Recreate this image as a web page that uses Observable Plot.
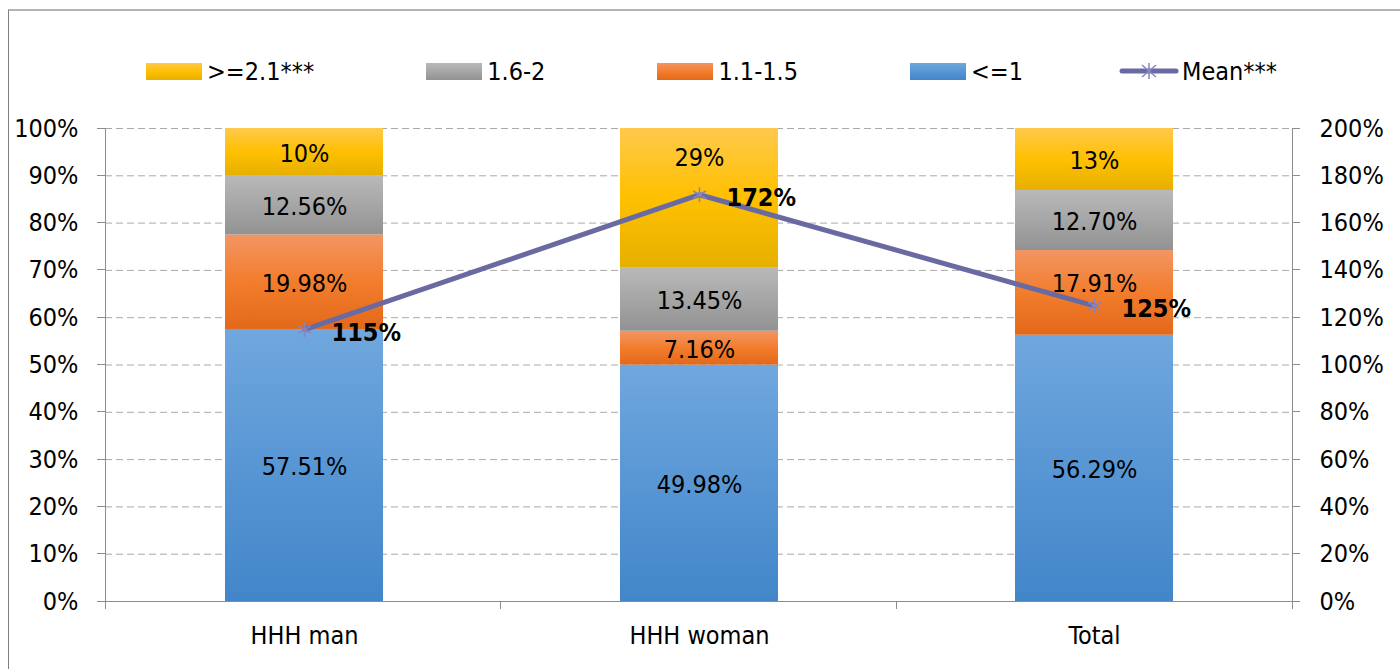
<!DOCTYPE html>
<html>
<head>
<meta charset="utf-8">
<script src="https://cdn.jsdelivr.net/npm/d3@7"></script>
<script src="https://cdn.jsdelivr.net/npm/@observablehq/plot@0.6"></script>
<style>
  html, body { margin: 0; padding: 0; background: #fff; }
  #wrap { position: relative; width: 1400px; height: 669px; overflow: hidden;
    font-family: 'DejaVu Sans Condensed', 'Open Sans', sans-serif; color: #000; }
  #border { position: absolute; left: 8px; top: 9px; right: 0; bottom: 0;
    border-top: 2px solid #b4b4b4; border-left: 1px solid #7f7f7f; pointer-events: none; }
  #legend { position: absolute; left: 146px; top: 52px; height: 38px; display: flex; align-items: center; gap: 112px; font-size: 25px; }
  .item { display: flex; align-items: center; gap: 5px; white-space: nowrap; }
  .item.mean { margin-left: -16px; gap: 3px; }
  .sw { width: 56px; height: 17px; }
  .ln { width: 60px; height: 20px; }
  #chart { position: absolute; left: 0; top: 100px; }
</style>
</head>
<body>
<div id="wrap">
  <div id="border"></div>
  <div id="legend"></div>
  <div id="chart"></div>
</div>
<script>
// ---- data ----
const categories = ["HHH man", "HHH woman", "Total"];
const seriesNames = ["<=1", "1.1-1.5", "1.6-2", ">=2.1***"]; // bottom to top
const seriesKeys = ["blue", "orange", "gray", "yellow"];
const valuesLe1 = [57.51, 49.98, 56.29];
const values11to15 = [19.98, 7.16, 17.91];
const values16to2 = [12.56, 13.45, 12.70];
const valuesGe21 = [9.95, 29.41, 13.10];
const labelDecimals = [2, 2, 2, 0];
const meanName = "Mean***";
const meanValues = [115, 172, 125];
const leftTicks = [0, 10, 20, 30, 40, 50, 60, 70, 80, 90, 100];
const rightMax = 200;
const legendOrder = [3, 2, 1, 0];

// ---- styles ----
const gradients = {
  blue:   [["0%", "#70a7de"], ["50%", "#5896d4"], ["100%", "#4286c9"]],
  orange: [["0%", "#f39563"], ["50%", "#f27d2d"], ["100%", "#e3691a"]],
  gray:   [["0%", "#b9b9b9"], ["50%", "#a6a6a6"], ["100%", "#929292"]],
  yellow: [["0%", "#ffc94d"], ["50%", "#ffc000"], ["100%", "#e6b000"]]
};
const lineColor = "#6a6aa2";
const markerColor = "#8585c0";
const axisColor = "#8c8c8c";
const gridColor = "#a9a9a9";
const FONT = 25;
const FONTFAM = "'DejaVu Sans Condensed', 'Open Sans', sans-serif";

// ---- build table ----
const seriesValues = [valuesLe1, values11to15, values16to2, valuesGe21];
const rows = [];
categories.forEach((cat, i) => {
  let acc = 0;
  seriesValues.forEach((vals, s) => {
    const v = vals[i];
    rows.push({cat, key: seriesKeys[s], name: seriesNames[s], value: v,
      y1: acc, y2: acc + v, ymid: acc + v / 2,
      label: v.toFixed(labelDecimals[s]) + "%"});
    acc += v;
  });
});
const meanRows = categories.map((cat, i) => ({cat, mean: meanValues[i]}));
const toLeft = v => v * 100 / rightMax;

// ---- legend ----
const legend = document.getElementById("legend");
const cssGrad = k => `linear-gradient(to bottom, ${gradients[k].map(([o, c]) => c + " " + o).join(", ")})`;
legendOrder.forEach(s => {
  const it = document.createElement("div"); it.className = "item";
  const sw = document.createElement("div"); sw.className = "sw"; sw.style.background = cssGrad(seriesKeys[s]);
  const tx = document.createElement("span"); tx.textContent = seriesNames[s];
  it.append(sw, tx); legend.append(it);
});
{
  const it = document.createElement("div"); it.className = "item mean";
  it.innerHTML = `<svg class="ln" viewBox="0 0 60 20"><line x1="3" y1="10" x2="57" y2="10" stroke="${lineColor}" stroke-width="5" stroke-linecap="round"/>
    <g stroke="${markerColor}" stroke-width="1.5"><line x1="30" y1="2" x2="30" y2="18"/><line x1="23" y1="4" x2="37" y2="16"/><line x1="37" y1="4" x2="23" y2="16"/></g></svg>`;
  const tx = document.createElement("span"); tx.textContent = meanName;
  it.append(tx); legend.append(it);
}

// ---- custom render pieces ----
const defsMark = () => {
  const g = d3.create("svg:g");
  const defs = g.append("defs");
  for (const [k, stops] of Object.entries(gradients)) {
    const lg = defs.append("linearGradient").attr("id", "grad-" + k)
      .attr("x1", 0).attr("y1", 0).attr("x2", 0).attr("y2", 1);
    stops.forEach(([o, c]) => lg.append("stop").attr("offset", o).attr("stop-color", c));
  }
  return g.node();
};
const axesMark = (index, scales, values, dims) => {
  const {width, height, marginLeft, marginRight, marginTop, marginBottom} = dims;
  const L = marginLeft, R = width - marginRight, B = height - marginBottom, T = marginTop;
  const g = d3.create("svg:g").attr("stroke", axisColor).attr("stroke-width", 1).attr("shape-rendering", "crispEdges");
  g.append("line").attr("x1", L).attr("x2", L).attr("y1", T).attr("y2", B);
  g.append("line").attr("x1", R).attr("x2", R).attr("y1", T).attr("y2", B);
  g.append("line").attr("x1", L).attr("x2", R).attr("y1", B).attr("y2", B);
  for (const t of leftTicks) {
    const y = scales.y(t);
    g.append("line").attr("x1", L - 8).attr("x2", L).attr("y1", y).attr("y2", y);
    g.append("line").attr("x1", R).attr("x2", R + 8).attr("y1", y).attr("y2", y);
  }
  const n = categories.length;
  for (let i = 0; i <= n; i++) {
    const x = L + i * (R - L) / n;
    g.append("line").attr("x1", x).attr("x2", x).attr("y1", B).attr("y2", B + 8);
  }
  return g.node();
};

// labels that were moved off the mean line in the original
const nudges = [{cat: "HHH woman", key: "yellow", dy: -40}, {cat: "Total", key: "orange", dy: -9}];
const nudgeOf = d => nudges.find(n => n.cat === d.cat && n.key === d.key);

const plot = Plot.plot({
  width: 1400,
  height: 569,
  marginTop: 28,
  marginBottom: 68,
  marginLeft: 105,
  marginRight: 108,
  style: {fontFamily: FONTFAM, fontSize: FONT + "px", color: "#000", background: "transparent"},
  x: {domain: categories, paddingInner: 0.6, paddingOuter: 0.3, label: null},
  y: {domain: [0, 100], label: null},
  marks: [
    defsMark,
    Plot.ruleY(leftTicks.filter(t => t > 0), {stroke: gridColor, strokeDasharray: "7,4", strokeWidth: 1}),
    ...seriesKeys.map(k => Plot.barY(rows.filter(d => d.key === k), {x: "cat", y1: "y1", y2: "y2", fill: `url(#grad-${k})`, inset: 0})),
    axesMark,
    Plot.axisX({tickSize: 0, tickPadding: 25, fontSize: FONT, label: null}),
    Plot.axisY(leftTicks, {anchor: "left", tickSize: 0, tickPadding: 27, tickFormat: d => d + "%", fontSize: FONT, label: null}),
    Plot.axisY(leftTicks, {anchor: "right", tickSize: 0, tickPadding: 27, tickFormat: d => (d * rightMax / 100) + "%", fontSize: FONT, label: null}),
    Plot.text(rows.filter(d => !nudgeOf(d)), {x: "cat", y: "ymid", text: "label", fontSize: FONT, dy: 2, fill: "#000"}),
    ...nudges.map(n => Plot.text(rows.filter(d => d.cat === n.cat && d.key === n.key), {x: "cat", y: "ymid", text: "label", fontSize: FONT, dy: n.dy, fill: "#000"})),
    Plot.line(meanRows, {x: "cat", y: d => toLeft(d.mean), stroke: lineColor, strokeWidth: 5}),
    Plot.dot(meanRows, {x: "cat", y: d => toLeft(d.mean), symbol: "asterisk", r: 7, stroke: markerColor, strokeWidth: 1.5}),
    Plot.text(meanRows, {x: "cat", y: d => toLeft(d.mean), text: d => d.mean + "%", dx: 27, dy: 3, textAnchor: "start", fontWeight: "bold", fontSize: FONT, fill: "#000"})
  ]
});
document.getElementById("chart").append(plot);
</script>
</body>
</html>
